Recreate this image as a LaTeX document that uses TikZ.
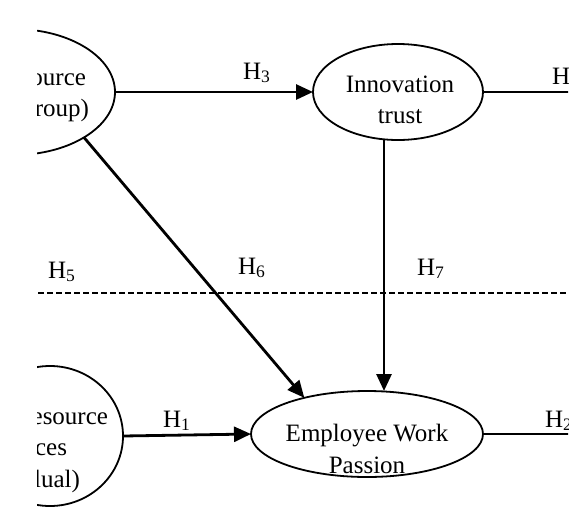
\documentclass[tikz,border=0pt]{standalone}
\usepackage{fontspec}
\setmainfont{Liberation Serif}
\usetikzlibrary{arrows.meta,shapes.geometric}
\begin{document}
\begin{tikzpicture}[x=1pt,y=-1pt,
  ell/.style={draw,ellipse,line width=1.8pt,inner sep=0pt,outer sep=0pt},
  txt/.style={inner sep=0pt,outer sep=0pt,font=\fontsize{25}{31}\selectfont},
  arr/.style={line width=2.8pt,-{Triangle[length=17pt,width=15pt]}},
  conn/.style={line width=2.8pt},
  dashline/.style={line width=1.4pt,dash pattern=on 5.5pt off 3.5pt}]
\useasboundingbox (0,0) rectangle (578,509);
\begin{scope}
\clip (37,0) rectangle (568,509);
% ellipses
\node[ell,minimum width=202pt,minimum height=126pt] (tl) at (14,92) {};
\node[ell,minimum width=146pt,minimum height=140pt] (bl) at (50,436) {};
\node[ell,minimum width=170pt,minimum height=96pt] (inn) at (398,92) {};
\node[ell,minimum width=232pt,minimum height=86pt] (ewp) at (367,434) {};
% texts in ellipses
\node[txt,anchor=base east] (t1) at (86,85) {ource};
\node[txt,anchor=base east] (t2) at (89,116) {roup)};
\node[txt,anchor=base east] (b1) at (108,424) {esource};
\node[txt,anchor=base east] (b2) at (67,455) {ces};
\node[txt,anchor=base east] (b3) at (80,487) {lual)};
\node[txt,anchor=base] (i1) at (400,92) {Innovation};
\node[txt,anchor=base] (i2) at (400,123) {trust};
\node[txt,anchor=base] (e1) at (367,441) {Employee Work};
\node[txt,anchor=base] (e2) at (367,473) {Passion};
% hypothesis labels
\node[txt,anchor=base west] (h3) at (243,79) {H\textsubscript{3}};
\node[txt,anchor=base west] (h5) at (48,278) {H\textsubscript{5}};
\node[txt,anchor=base west] (h6) at (238,274) {H\textsubscript{6}};
\node[txt,anchor=base west] (h7) at (417,275) {H\textsubscript{7}};
\node[txt,anchor=base west] (h1) at (163,427) {H\textsubscript{1}};
\node[txt,anchor=base west] (h4) at (552,84) {H\textsubscript{4}};
\node[txt,anchor=base west] (h2) at (545,427) {H\textsubscript{2}};
% free ends
\coordinate (ir) at (575,92);
\coordinate (er) at (575,434);
\coordinate (dl) at (38,293);
\coordinate (dr) at (566,293);
% connectors
\draw[arr] (tl.east) -- (inn.west);
\draw[conn] (inn.east) -- (ir);
\draw[arr] (tl.-33.7) -- (ewp.150);
\draw[arr] ([xshift=-14pt]inn.south) -- ([xshift=17pt]ewp.north);
\draw[arr] (bl.east) -- (ewp.west);
\draw[conn] (ewp.east) -- (er);
\draw[dashline] (dl) -- (dr);
\end{scope}
\end{tikzpicture}
\end{document}
